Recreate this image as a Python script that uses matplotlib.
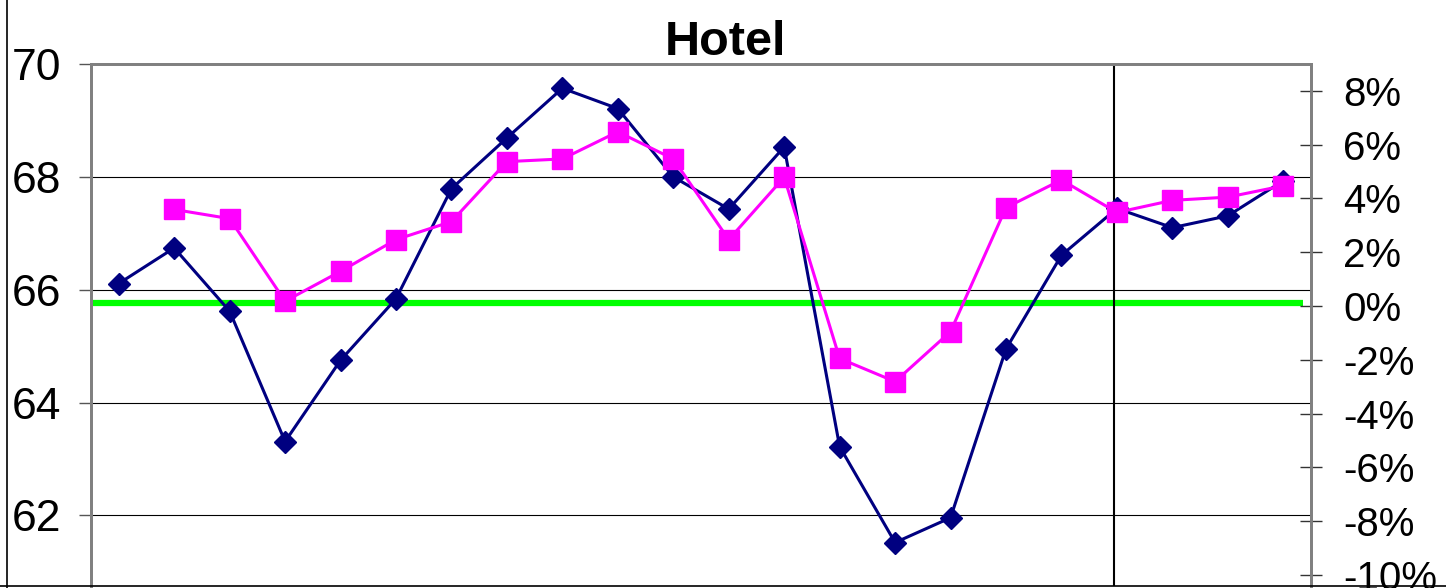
import matplotlib.pyplot as plt
from matplotlib.ticker import FuncFormatter
from matplotlib.lines import Line2D

plt.rcParams['font.family'] = ['Liberation Sans', 'DejaVu Sans']

# data
periods = list(range(22))
level = [66.11, 66.74, 65.62, 63.31, 64.75, 65.84, 67.79, 68.69, 69.57, 69.21, 68.00,
         67.43, 68.53, 63.22, 61.52, 61.96, 64.95, 66.61, 67.44, 67.10, 67.31, 67.93]
change_pct = [None, 3.59, 3.25, 0.18, 1.29, 2.47, 3.14, 5.37, 5.47, 6.48, 5.47,
              2.47, 4.79, -1.95, -2.81, -0.95, 3.66, 4.69, 3.48, 3.93, 4.05, 4.47]
zero_ref = 65.77
marker_period = 17.95
left_ticks = [62, 64, 66, 68, 70]
right_ticks = [-10, -8, -6, -4, -2, 0, 2, 4, 6, 8]

fig = plt.figure(figsize=(14.46, 5.88), dpi=100)
ax = fig.add_axes([91 / 1446, 2 / 588, 1220 / 1446, 522 / 588])
ax2 = ax.twinx()

# gridlines and reference lines
for t in left_ticks[:-1]:
    ax.axhline(t, color='black', lw=0.8, zorder=0)
ax.plot([-0.55, 21.35], [zero_ref, zero_ref], color='#00ff00', lw=4.5, zorder=1,
        solid_capstyle='butt')
ax.axvline(marker_period, color='black', lw=1.5, zorder=1)

ax.plot(periods, level, color='#000080', lw=2.2, marker='D', ms=11, zorder=3)
x2 = [p for p, v in zip(periods, change_pct) if v is not None]
y2 = [v for v in change_pct if v is not None]
ax2.plot(x2, y2, color='#ff00ff', lw=2.2, marker='s', ms=14, zorder=3)

ax.set_xlim(-0.5, 21.5)
ax.set_ylim(60.75, 70)
ax2.set_ylim(-10.41, 9.0)

ax.set_yticks(left_ticks)
ax.set_xticks([])
ax.tick_params(axis='y', direction='out', length=8.5, width=1, color='#555555',
               labelsize=32, pad=13)
ax2.set_yticks(right_ticks)
ax2.yaxis.set_major_formatter(FuncFormatter(lambda v, p: f'{v:.0f}%'))
ax2.tick_params(axis='y', direction='inout', length=16, width=1, color='#333333',
                labelsize=29, pad=15)

for a in (ax, ax2):
    a.spines['bottom'].set_visible(False)
    for s in ('left', 'right', 'top'):
        a.spines[s].set_color('#808080')
        a.spines[s].set_linewidth(2)

fig.text(726 / 1446, 1 - 55 / 588, 'Hotel', fontsize=35, fontweight='bold',
         ha='center', va='baseline')

# chart area border
fig.add_artist(Line2D([7 / 1446, 7 / 1446], [0, 1], color='black', lw=1.2))
fig.add_artist(Line2D([0, 1], [2 / 588, 2 / 588], color='black', lw=1.2))

fig.savefig('out.png', dpi=100)
